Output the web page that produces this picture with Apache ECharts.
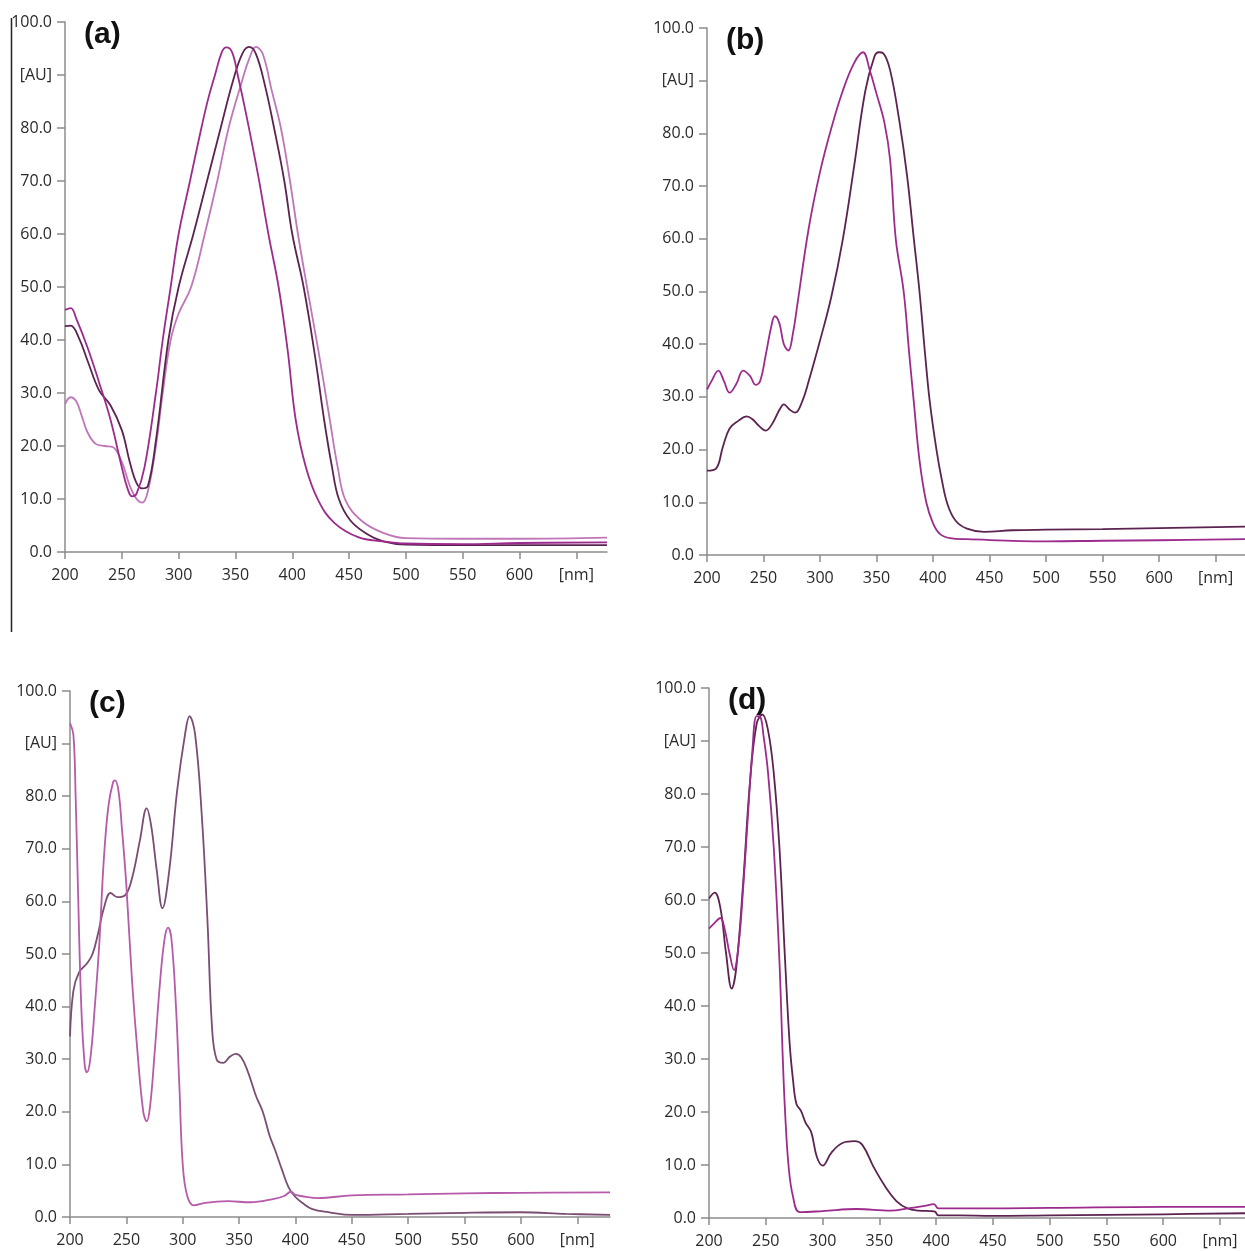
<!DOCTYPE html>
<html>
<head>
<meta charset="utf-8">
<script src="https://cdn.jsdelivr.net/npm/echarts@6/dist/echarts.min.js"></script>
<style>
  html, body { margin: 0; padding: 0; background: #fff; }
  #main { width: 1245px; height: 1251px; }
</style>
</head>
<body>
<div id="main"></div>
<script>
// tick values shared by all panels
var xTicks = [200, 250, 300, 350, 400, 450, 500, 550, 600, 650];
var yTicks = [0, 10, 20, 30, 40, 50, 60, 70, 80, 90, 100];
var panelNames = ['(a)', '(b)', '(c)', '(d)'];

// (a) three spectra
var a1 = [[200,45.7],[205,46],[210,44],[220,38.5],[230,32],[240,25],[250,16],[255,12],[259,10.5],[263,11],[270,16],[280,30],[286,40],[293,50],[300,60],[310,70],[320,80],[326,85.5],[332,90],[338,94.3],[342,95.2],[347,94.3],[352,90],[360,82],[370,71],[379,60],[388,50],[396,38],[403,25],[412,16],[423,9.7],[437,5.5],[458,2.8],[480,2],[500,1.6],[550,1.5],[600,1.7],[677,1.8]];
var a2 = [[200,42.6],[205,42.7],[212,40.5],[220,36],[230,30.5],[240,27.7],[250,23],[257,17],[263,13],[268,12],[273,12.5],[280,21],[291,40],[300,50],[313,60],[325,70],[337,80],[348,89],[356,94],[362,95.3],[368,94],[376,88],[384,80],[393,70],[400,60],[410,50],[420,37],[428,25],[435,16],[441,10],[451,6],[465,3.5],[480,2],[500,1.4],[550,1.3],[600,1.3],[677,1.3]];
var a3 = [[200,27.9],[205,29.2],[210,28.4],[215,25.5],[220,22.5],[227,20.4],[235,20],[242,19.8],[250,17],[257,12.5],[263,10],[268,9.3],[273,11.5],[280,20],[286,30],[293,40],[300,45],[311,50],[323,60],[334,70],[344,80],[356,89],[362,93],[368,95.3],[374,94],[382,87],[390,80],[398,70],[405,60],[413,50],[423,38],[433,25],[440,16],[447,9.7],[461,5.9],[480,3.6],[500,2.6],[550,2.5],[600,2.5],[677,2.7]];

// (b) two spectra
var b1 = [[200,31.4],[204,33],[210,35],[215,33],[220,30.8],[226,32.5],[232,35],[238,34],[243,32.3],[247,33],[252,38],[257,43.5],[260,45.3],[264,44],[268,40],[272,38.8],[276,42],[280,47.6],[290,62],[300,72.7],[310,81],[320,88],[330,93.3],[338,95.4],[344,92],[350,87.5],[357,82],[362,75],[367,60],[374,50],[379,38],[383,29],[388,18],[394,10],[400,6],[406,4],[415,3.2],[430,3],[500,2.6],[550,2.7],[600,2.8],[676,3]];
var b2 = [[200,16],[208,16.4],[214,20.5],[220,24],[228,25.5],[235,26.3],[240,25.8],[246,24.5],[252,23.6],[258,25],[264,27.5],[268,28.6],[273,27.6],[278,27],[284,29],[290,33],[300,40.7],[310,49],[320,59.7],[330,73.5],[340,88],[348,94.5],[352,95.4],[356,95.2],[362,92],[370,82.6],[377,72],[383,60],[388,50],[393,38],[397,29.3],[403,20],[408,14],[413,9.5],[420,6.5],[430,5],[445,4.4],[470,4.7],[500,4.8],[550,4.9],[600,5.1],[676,5.4]];

// (c) two spectra
var c1 = [[200,93.9],[203,91.7],[205,80],[207,63],[210,40],[213,29],[215,27.5],[218,30],[222,40],[226,52],[230,68],[234,78],[238,82.5],[240,83],[243,81],[246,74],[250,63],[255,45],[260,31],[265,20],[268,18.2],[271,21],[275,31],[280,45],[284,53],[287,55],[290,52.8],[294,40],[297,25],[300,10],[304,4],[310,2.2],[320,2.7],[340,3],[360,2.8],[380,3.4],[390,4],[396,4.8],[400,4.2],[420,3.6],[450,4.1],[500,4.3],[550,4.5],[600,4.6],[679,4.7]];
var c2 = [[200,34.3],[203,43],[208,46.5],[215,48.2],[220,50],[225,54],[230,58.7],[236,61.6],[242,60.8],[249,61.2],[255,64.4],[262,71.6],[268,77.7],[272,74.4],[277,65.8],[282,58.7],[288,65.8],[295,81],[302,91.7],[306,95.2],[311,91.7],[317,76],[322,56],[326,36],[330,30],[336,29.3],[342,30.5],[347,31],[352,30.3],[358,27.5],[365,23],[371,20],[377,15.5],[382,12.7],[388,9],[394,5.6],[400,3.8],[406,2.7],[415,1.5],[430,0.9],[450,0.4],[500,0.6],[550,0.8],[600,0.9],[640,0.6],[679,0.4]];

// (d) two spectra
var d1 = [[200,54.6],[205,55.7],[210,56.6],[214,54.3],[218,50],[222,46.8],[226,51.4],[230,62],[234,75],[238,87.6],[242,94.7],[245,94.6],[248,91],[252,84],[257,70],[262,48.6],[265,30],[267,20],[270,10],[274,4],[280,1.1],[300,1.3],[330,1.7],[360,1.4],[375,1.8],[390,2.3],[398,2.6],[402,1.8],[420,1.8],[500,1.9],[600,2.1],[672,2.1]];
var d2 = [[200,60.3],[205,61.4],[210,58.5],[215,50],[220,43.3],[224,47.2],[230,63],[236,82],[242,93.3],[247,95],[252,92],[257,84],[262,70],[267,48.6],[271,33],[274,26],[277,21.5],[281,20.2],[285,18],[290,16.2],[295,11.5],[300,9.9],[308,12.4],[318,14.2],[328,14.5],[335,13.8],[345,9.6],[355,6],[365,3.2],[375,1.8],[385,1.4],[395,1.3],[399,1.2],[402,0.5],[420,0.5],[450,0.4],[500,0.5],[600,0.7],[672,0.9]];

var magenta = '#9c2b8d';
var dark = '#5c2350';
var light = '#c077b7';

var grids = [
  { left: 65, top: 22, width: 542, height: 530, xmax: 677 },
  { left: 707, top: 28, width: 538, height: 527, xmax: 676 },
  { left: 70, top: 691, width: 540, height: 526, xmax: 679 },
  { left: 709, top: 688, width: 536, height: 530, xmax: 672 }
];

var panelSeries = [
  [[a3, light], [a2, dark], [a1, magenta]],
  [[b2, dark], [b1, magenta]],
  [[c2, '#7a4d72'], [c1, '#b65aaa']],
  [[d2, dark], [d1, magenta]]
];

var labelFont = { color: '#2a2a2a', fontSize: 16, fontFamily: 'Open Sans' };
var axisLineStyle = { color: '#8c8c8c', width: 1.5 };

var option = {
  animation: false,
  backgroundColor: '#fff',
  grid: [],
  xAxis: [],
  yAxis: [],
  series: [],
  graphic: []
};

grids.forEach(function (g, i) {
  option.grid.push({ left: g.left, top: g.top, width: g.width, height: g.height, containLabel: false });
  option.xAxis.push({
    type: 'value', gridIndex: i, min: 200, max: g.xmax, interval: 50,
    axisLine: { show: true, lineStyle: axisLineStyle },
    axisTick: { show: true, length: 7, lineStyle: axisLineStyle, customValues: xTicks },
    splitLine: { show: false },
    axisLabel: {
      customValues: xTicks, margin: 15,
      color: labelFont.color, fontSize: labelFont.fontSize, fontFamily: labelFont.fontFamily,
      formatter: function (v) { return v === 650 ? '[nm]' : String(v); }
    }
  });
  option.yAxis.push({
    type: 'value', gridIndex: i, min: 0, max: 100, interval: 10,
    axisLine: { show: true, lineStyle: axisLineStyle },
    axisTick: { show: true, length: 8, lineStyle: axisLineStyle, customValues: yTicks },
    splitLine: { show: false },
    axisLabel: {
      customValues: yTicks, margin: 13,
      color: labelFont.color, fontSize: labelFont.fontSize, fontFamily: labelFont.fontFamily,
      formatter: function (v) { return v === 90 ? '[AU]' : v.toFixed(1); }
    }
  });
  panelSeries[i].forEach(function (s) {
    option.series.push({
      type: 'line', xAxisIndex: i, yAxisIndex: i, data: s[0],
      smooth: 0.4, showSymbol: false, silent: true,
      lineStyle: { color: s[1], width: 1.8 }
    });
  });
  option.graphic.push({
    type: 'text', left: g.left + 19, top: g.top - 2,
    style: { text: panelNames[i], fontSize: 30, fontWeight: 'bold', fontFamily: 'Liberation Sans', fill: '#111' }
  });
});

// stray frame edge on the left of panel (a)
option.graphic.push({
  type: 'line', shape: { x1: 11.5, y1: 18, x2: 11.5, y2: 632 },
  style: { stroke: '#222', lineWidth: 1.5 }
});

var chart = echarts.init(document.getElementById('main'));
chart.setOption(option);
</script>
</body>
</html>
